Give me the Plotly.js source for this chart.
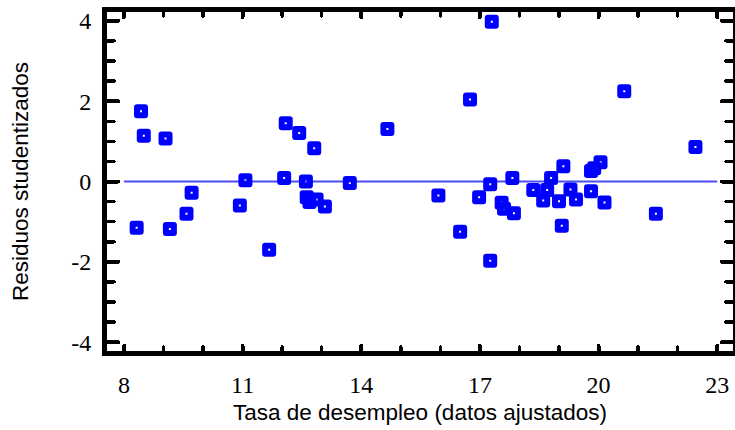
<!DOCTYPE html>
<html><head><meta charset="utf-8">
<script src="https://cdn.plot.ly/plotly-3.0.1.min.js"></script>
<style>
html,body{margin:0;padding:0;background:#fff}
.scatterlayer .point{stroke-linejoin:round}
path.ticks{stroke-linecap:round}
</style>
</head><body><div id="chart" style="width:735px;height:430px"></div>
<script>
const fittedX = [8.32, 8.43, 8.50, 9.05, 9.16, 9.58, 9.71, 10.93, 11.07, 11.67,
  12.05, 12.09, 12.43, 12.60, 12.62, 12.69, 12.81, 12.87, 13.08, 13.71,
  14.66, 15.95, 16.50, 16.75, 16.98, 17.26, 17.26, 17.30, 17.55, 17.61,
  17.82, 17.86, 18.35, 18.60, 18.70, 18.80, 19.00, 19.07, 19.11, 19.29,
  19.43, 19.81, 19.81, 19.89, 20.05, 20.15, 20.65, 21.45, 22.45];
const studResid = [-1.15, 1.75, 1.14, 1.07, -1.18, -0.80, -0.28, -0.60, 0.03, -1.70,
  0.09, 1.45, 1.21, 0.00, -0.39, -0.51, 0.83, -0.45, -0.62, -0.04,
  1.31, -0.35, -1.25, 2.04, -0.39, -0.07, -1.97, 3.98, -0.53, -0.68,
  0.09, -0.79, -0.21, -0.47, -0.21, 0.09, -0.49, -1.10, 0.38, -0.20,
  -0.45, -0.24, 0.26, 0.33, 0.48, -0.52, 2.25, -0.80, 0.86];
const refLineX = [8, 23];
const refLineY = [0, 0];
const xTickVals = [8, 11, 14, 17, 20, 23];
const xTickText = ['8', '11', '14', '17', '20', '23'];
const yTickVals = [4, 2, 0, -2, -4];
const yTickText = ['4', '2', '0', '-2', '-4'];
const xTitle = 'Tasa de desempleo (datos ajustados)';
const yTitle = 'Residuos studentizados';

const traces = [
  {x: refLineX, y: refLineY, mode: 'lines', type: 'scatter',
   line: {color: '#4d4df2', width: 2}, hoverinfo: 'skip'},
  {x: fittedX, y: studResid, mode: 'markers', type: 'scatter',
   marker: {symbol: 'square-open', size: 8, color: '#0000ff',
            line: {width: 6, color: '#0000ff'}}}
];
const tickFont = {family: '"Liberation Serif", "Times New Roman", serif', size: 24, color: '#000'};
const titleFont = {family: '"Liberation Sans", Arial, sans-serif', size: 22.5, color: '#000'};
const layout = {
  width: 735, height: 430,
  margin: {l: 107, r: 2, t: 12, b: 79},
  paper_bgcolor: '#fff', plot_bgcolor: '#fff',
  showlegend: false,
  xaxis: {
    range: [7.57, 23.4], showgrid: false, zeroline: false,
    showline: true, linecolor: '#000', linewidth: 5, mirror: 'allticks',
    tickmode: 'array', tickvals: xTickVals, ticktext: xTickText,
    ticks: 'inside', ticklen: 5, tickwidth: 4, tickcolor: '#000',
    minor: {tickmode: 'linear', tick0: 8, dtick: 1, ticks: 'inside', ticklen: 4, tickwidth: 3.5, tickcolor: '#000', showgrid: false},
    tickfont: tickFont, ticklabelstandoff: 8,
    title: {text: xTitle, font: titleFont, standoff: 9}
  },
  yaxis: {
    range: [-4.22, 4.22], showgrid: false, zeroline: false,
    showline: true, linecolor: '#000', linewidth: 5, mirror: 'allticks',
    tickmode: 'array', tickvals: yTickVals, ticktext: yTickText,
    ticks: 'inside', ticklen: 11, tickwidth: 4, tickcolor: '#000',
    minor: {tickmode: 'linear', tick0: 0, dtick: 0.5, ticks: 'inside', ticklen: 7, tickwidth: 3.5, tickcolor: '#000', showgrid: false},
    tickfont: tickFont, ticklabelstandoff: 6,
    title: {text: yTitle, font: titleFont, standoff: 38}
  }
};
Plotly.newPlot('chart', traces, layout, {displayModeBar: false, staticPlot: true});
</script>
</body></html>
